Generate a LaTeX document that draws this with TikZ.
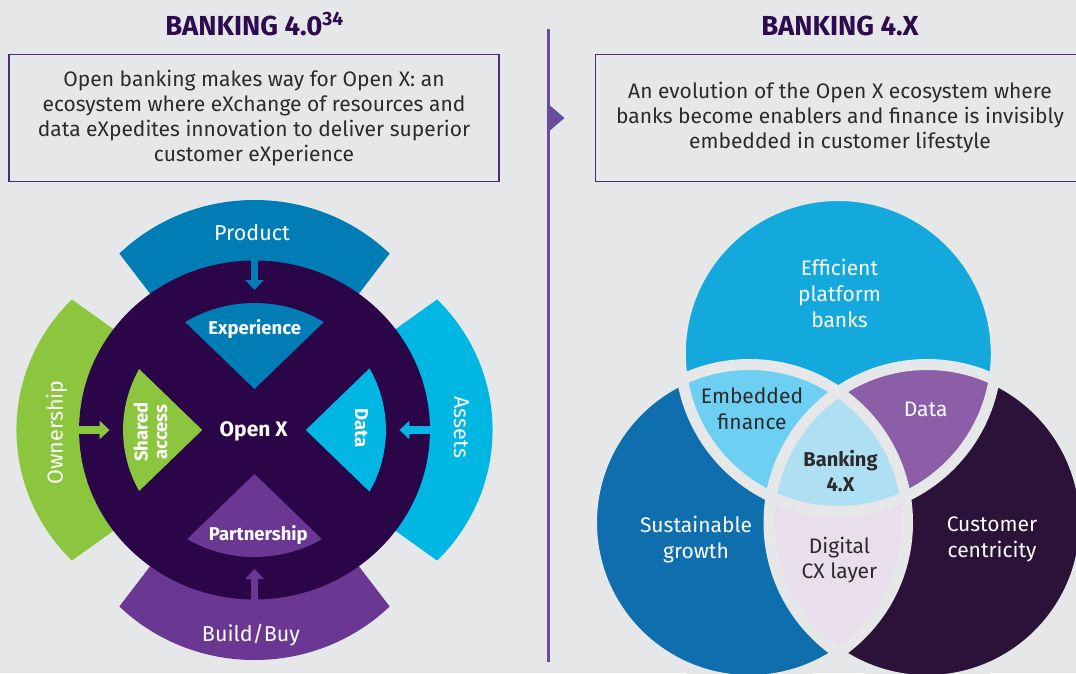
\documentclass[tikz,border=0pt]{standalone}
\usepackage{fontspec}
\setmainfont{Fira Sans}
\usetikzlibrary{arrows.meta}

\definecolor{bggray}{HTML}{E6E7E8}
\definecolor{titlepurple}{HTML}{2D0B4E}
\definecolor{boxline}{HTML}{4B2B7A}
\definecolor{divider}{HTML}{6A4C9C}
\definecolor{bodytext}{HTML}{2B2B2B}
\definecolor{prodblue}{HTML}{007DB5}
\definecolor{assetcyan}{HTML}{00B6E3}
\definecolor{owngreen}{HTML}{8CC63F}
\definecolor{buildpurple}{HTML}{6A3793}
\definecolor{openxdark}{HTML}{2A0548}
\definecolor{venntop}{HTML}{13A9DD}
\definecolor{vennleft}{HTML}{0F6FAE}
\definecolor{vennright}{HTML}{2B1239}
\definecolor{embedblue}{HTML}{6DCFF2}
\definecolor{datapurple}{HTML}{8B5EA7}
\definecolor{digitallilac}{HTML}{E9DFEC}
\definecolor{corepale}{HTML}{AEDFF2}

\begin{document}
\begin{tikzpicture}[x=1pt, y=-1pt,
  title/.style={font=\fontsize{27.5}{31}\selectfont\bfseries, text=titlepurple, inner sep=0pt},
  intro/.style={font=\fontsize{21}{25.3}\selectfont, text=bodytext, align=center, inner sep=0pt},
  seglabel/.style={font=\fontsize{21.5}{26}\selectfont, text=white, inner sep=0pt},
  petal/.style={font=\fontsize{18.5}{19.5}\selectfont\bfseries, text=white, inner sep=0pt, align=center},
  venn/.style={font=\fontsize{21}{25.8}\selectfont, align=center, inner sep=0pt},
  arr/.style={line width=7.5pt, -{Triangle[width=18pt,length=10pt]}},
  gap/.style={draw=bggray, line width=11pt}]

\path[use as bounding box, fill=bggray] (0,0) rectangle (1076,673);

% headings and intro boxes
\node[title, anchor=base] (t40) at (254.5,35) {BANKING 4.0\textsuperscript{34}};
\node[title, anchor=base] (t4x) at (840,35) {BANKING 4.X};

\draw[boxline, line width=1.3pt] (9,54.5) rectangle (499,181.5);
\node[intro] (leftintro) at (254,118) {Open banking makes way for Open X: an\\ecosystem where eXchange of resources and\\data eXpedites innovation to deliver superior\\customer eXperience};

\draw[boxline, line width=1.3pt] (595.5,54.5) rectangle (1085,181.5);
\node[intro] (rightintro) at (840,117.5) {An evolution of the Open X ecosystem where\\banks become enablers and finance is invisibly\\embedded in customer lifestyle};

\draw[divider, line width=3pt] (548.3,29) -- (548.3,662);
\fill[divider] (547,103) -- (564.5,118) -- (547,133) -- cycle;

% Banking 4.0 wheel
\begin{scope}[shift={(254.5,430)}, xscale=1.035]
  \foreach \a/\c in {90/prodblue, 180/owngreen, 0/assetcyan, 270/buildpurple}{
    \begin{scope}
      \clip (0,0) -- +(\a-36.5:320pt) -- +(\a+36.5:320pt) -- cycle;
      \fill[\c] (\a:44pt) circle[radius=186pt];
    \end{scope}
  }
  \fill[openxdark] (0,0) circle[radius=169.5pt];
  \foreach \a/\off/\c in {90/41/prodblue, 180/50.5/owngreen, 0/49.5/assetcyan, 270/44/buildpurple}{
    \begin{scope}
      \clip (\a:\off pt) -- +(\a-45:200pt) -- +(\a+45:200pt) -- cycle;
      \fill[\c] (0,0) circle[radius=127pt];
    \end{scope}
  }
  \coordinate (prodout) at (90:182pt);
  \coordinate (prodin) at (90:140pt);
  \coordinate (ownout) at (180:182pt);
  \coordinate (ownin) at (180:140pt);
  \coordinate (assetout) at (0:182pt);
  \coordinate (assetin) at (0:140pt);
  \coordinate (buildout) at (270:182pt);
  \coordinate (buildin) at (270:139pt);
  \draw[arr, prodblue] (prodout) -- (prodin);
  \draw[arr, owngreen] (ownout) -- (ownin);
  \draw[arr, assetcyan] (assetout) -- (assetin);
  \draw[arr, buildpurple] (buildout) -- (buildin);
\end{scope}

\node[seglabel, anchor=base] (product) at (252,240) {Product};
\node[seglabel, anchor=base] (buildbuy) at (251,641.7) {Build/Buy};
\node[seglabel, anchor=base, rotate=90] (ownership) at (62.5,432.5) {Ownership};
\node[seglabel, anchor=base, rotate=-90] (assets) at (454,427.5) {Assets};
\node[petal, anchor=base] (experience) at (254.7,334) {Experience};
\node[petal, anchor=base] (partnership) at (258.3,540) {Partnership};
\node[petal, anchor=base, rotate=-90] (datapetal) at (355,428.3) {Data};
\node[petal, rotate=90] (shared) at (150.5,432) {Shared\\access};
\node[font=\fontsize{21}{25}\selectfont\bfseries, text=white, anchor=base, inner sep=0pt] (openx) at (253.7,436.7) {Open X};

% Banking 4.X venn
\coordinate (T) at (838.3,353.5);
\coordinate (L) at (749.5,522.5);
\coordinate (R) at (927,522.5);
\fill[vennleft] (L) circle[radius=158pt];
\fill[vennright] (R) circle[radius=158pt];
\fill[venntop] (T) circle[radius=158pt];
\begin{scope}
  \clip (T) circle[radius=158pt];
  \fill[embedblue] (L) circle[radius=158pt];
  \fill[datapurple] (R) circle[radius=158pt];
\end{scope}
\begin{scope}
  \clip (L) circle[radius=158pt];
  \fill[digitallilac] (R) circle[radius=158pt];
\end{scope}
\begin{scope}
  \clip (T) circle[radius=158pt];
  \clip (L) circle[radius=158pt];
  \fill[corepale] (R) circle[radius=158pt];
\end{scope}
\draw[gap] (L) circle[radius=158pt];
\draw[gap] (R) circle[radius=158pt];
\draw[gap] (T) circle[radius=158pt];

\node[venn, text=white] (efficient) at (839.5,293.2) {Efficient\\platform\\banks};
\node[venn, text=bodytext] (embedded) at (752,408.5) {Embedded\\finance};
\node[venn, text=white, anchor=base] (vdata) at (925.7,416) {Data};
\node[venn, font=\fontsize{20}{25}\selectfont\bfseries, text=bodytext] (core) at (840.5,471.5) {Banking\\4.X};
\node[venn, text=white] (sustain) at (696,539.5) {Sustainable\\growth};
\node[venn, text=bodytext] (digital) at (839.5,560) {Digital\\CX layer};
\node[venn, text=white] (custom) at (992,539.5) {Customer\\centricity};

\end{tikzpicture}
\end{document}
